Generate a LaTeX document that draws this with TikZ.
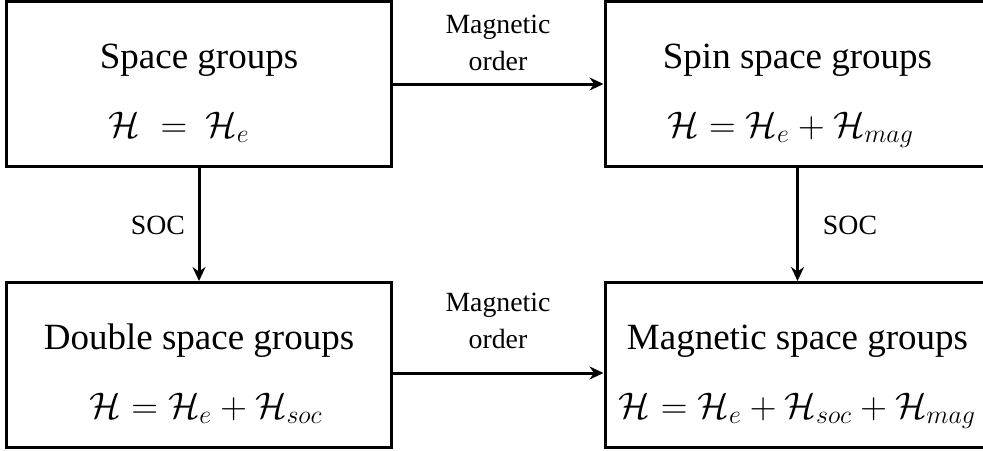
\RequirePackage{fix-cm}
\documentclass[tikz,border=0pt]{standalone}
\usepackage{amsmath,amssymb}
\usepackage[no-math]{fontspec}
\setmainfont{Liberation Serif}
\usepackage{tikz}
\usetikzlibrary{arrows.meta,calc,positioning}

\begin{document}
\begin{tikzpicture}[
      x=0.5pt, y=-0.5pt,
      >={Stealth[length=7pt,width=6.5pt]},
      group/.style={draw=black, line width=1.5pt, minimum width=192.5pt, minimum height=82.5pt, inner sep=0pt},
      title/.style={anchor=base, inner sep=0pt, font=\fontsize{18.5}{22}\selectfont},
      formula/.style={title},
      link/.style={->, line width=1.5pt},
      lbl/.style={align=center, inner sep=0pt, font=\fontsize{13.9}{18.5}\selectfont}
    ]

    \clip (0,0) rectangle (983,450);

    % -------- groups --------
    \node[group] (sg)  at (199,84)    {};
    \node[group] (ssg) at (797.5,84)  {};
    \node[group] (dsg) at (199,365)   {};
    \node[group] (msg) at (797.5,365) {};

    \node[title] (sgT)  at ([yshift=8pt]sg.center)  {Space groups};
    \node[title] (ssgT) at ([yshift=8pt]ssg.center) {Spin space groups};
    \node[title] (dsgT) at ([yshift=8pt]dsg.center) {Double space groups};
    \node[title] (msgT) at ([yshift=8pt]msg.center) {Magnetic space groups};

    \node[formula] (sgF)  at ([xshift=-10pt,yshift=-26.5pt]sg.center)
      {$\mathcal{H}\;=\:\mathcal{H}_e$};
    \node[formula] (ssgF) at ([xshift=-3.5pt,yshift=-26.5pt]ssg.center)
      {$\mathcal{H} = \mathcal{H}_e + \mathcal{H}_{mag}$};
    \node[formula] (dsgF) at ([xshift=3.5pt,yshift=-26.5pt]dsg.center)
      {$\mathcal{H} = \mathcal{H}_e + \mathcal{H}_{soc}$};
    \node[formula] (msgF) at ([yshift=-26.5pt]msg.center)
      {$\mathcal{H} = \mathcal{H}_e + \mathcal{H}_{soc} + \mathcal{H}_{mag}$};

    % -------- transitions --------
    \draw[link] (sg.east) -- (ssg.west);
    \draw[link] (sg.south) -- (dsg.north);
    \draw[link] (ssg.south) -- (msg.north);
    \draw[link] ([yshift=-4pt]dsg.east) -- ([yshift=-4pt]msg.west);

    \node[lbl] (moTop) at (498,43)  {Magnetic\\order};
    \node[lbl] (moBot) at (498,321) {Magnetic\\order};
    \node[lbl] (socL)  at (158,225) {SOC};
    \node[lbl] (socR)  at (850,225) {SOC};

\end{tikzpicture}
\end{document}
